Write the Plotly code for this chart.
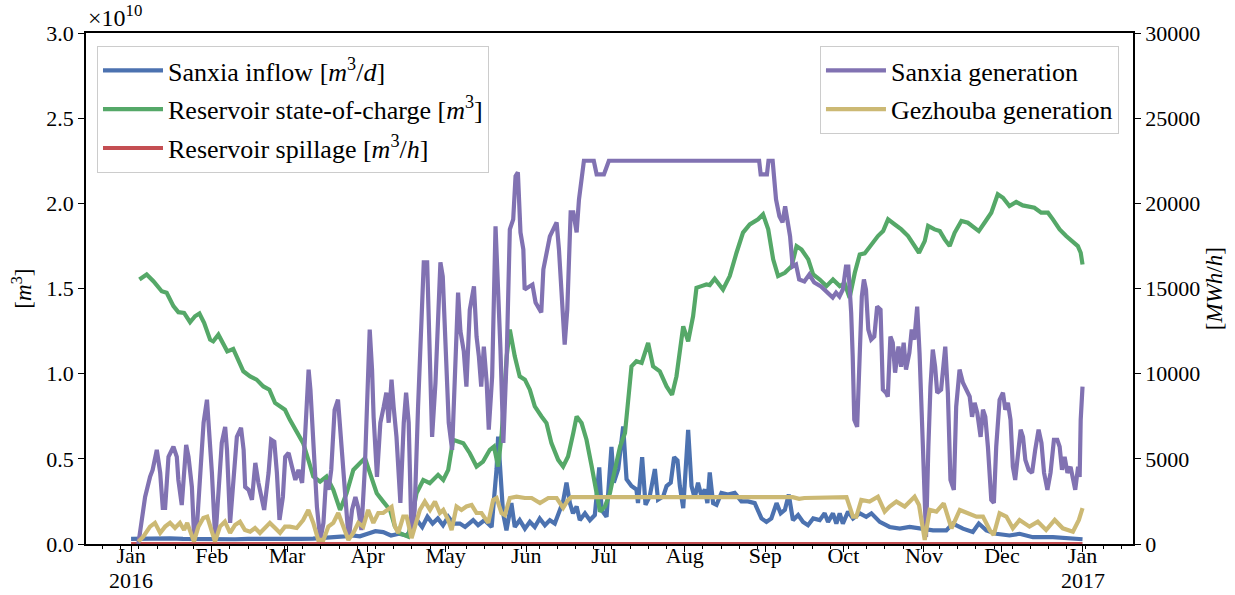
import numpy as np
import pandas as pd
import plotly.graph_objects as go

# ---------------- data (days after 2016-01-01) ----------------
inflow_days = [0, 5, 10, 15, 20, 25, 30, 35, 40, 45, 50, 55, 60, 65, 70, 75, 78, 82, 85, 88, 91, 94, 97, 100,
               103, 106, 108, 110, 112, 114, 116, 118, 120, 122, 124, 126.5, 128.5, 131.6, 133.5, 136, 138.7,
               140.6, 141.2, 142.1, 143.1, 144.4, 146.3, 147.6, 149.5, 151.5, 153.4, 155.3, 157.2, 159.2, 161.1,
               163.0, 164.9, 166.2, 167.5, 168.8, 170.0, 171.4, 172.6, 174.6, 176.5, 178.4, 180.1, 181.0, 182.9,
               184.8, 185.7, 187.4, 189.3, 190.6, 192.5, 194.4, 195.0, 196.6, 197.9, 199.5, 201.5, 202.7, 204.7,
               206.0, 207.6, 208.9, 210.2, 211.1, 212.4, 213.4, 214.3, 215.6, 216.8, 218.1, 219.4, 220.7, 221.7,
               222.6, 223.9, 225.2, 227.1, 229.6, 232.2, 234.8, 237.3, 239.9, 242.5, 244.4, 246.3, 248.3, 249.9,
               251.5, 253.0, 254.6, 256.6, 258.5, 260.4, 262.4, 264.9, 266.8, 268.1, 270.0, 271.3, 272.6, 273.8,
               275.8, 277.7, 280.3, 282.8, 284.8, 288.0, 291.8, 295.7, 299.5, 303.3, 308.5, 313.6, 316.1, 320.0,
               323.8, 326.1, 329.0, 332.8, 337.9, 341.8, 346.9, 354.6, 362.3, 366.0]
inflow_1e10 = [0.03, 0.032, 0.03, 0.033, 0.03, 0.028, 0.032, 0.03, 0.028, 0.03, 0.029, 0.03, 0.028, 0.03, 0.032,
               0.035, 0.04, 0.045, 0.05, 0.045, 0.06, 0.075, 0.07, 0.05, 0.06, 0.05, 0.09, 0.14, 0.10, 0.16, 0.12,
               0.15, 0.11, 0.16, 0.12, 0.12, 0.10, 0.14, 0.11, 0.14, 0.10, 0.44, 0.63, 0.44, 0.18, 0.08, 0.24, 0.10,
               0.14, 0.09, 0.13, 0.10, 0.15, 0.11, 0.14, 0.12, 0.20, 0.25, 0.36, 0.24, 0.18, 0.22, 0.14, 0.18, 0.14,
               0.17, 0.45, 0.20, 0.16, 0.57, 0.36, 0.44, 0.69, 0.38, 0.34, 0.32, 0.24, 0.51, 0.23, 0.28, 0.44, 0.26,
               0.28, 0.34, 0.36, 0.51, 0.49, 0.34, 0.21, 0.45, 0.67, 0.34, 0.27, 0.36, 0.28, 0.32, 0.24, 0.42, 0.24,
               0.23, 0.30, 0.29, 0.30, 0.25, 0.25, 0.24, 0.15, 0.13, 0.15, 0.24, 0.18, 0.20, 0.29, 0.14, 0.17, 0.13,
               0.11, 0.15, 0.14, 0.18, 0.13, 0.18, 0.12, 0.18, 0.12, 0.19, 0.15, 0.18, 0.16, 0.18, 0.13, 0.10, 0.09,
               0.10, 0.09, 0.08, 0.08, 0.12, 0.09, 0.07, 0.12, 0.08, 0.06, 0.05, 0.06, 0.04, 0.04, 0.03, 0.028]

soc_days = [3.2, 6.0, 8.6, 11.8, 13.7, 16.3, 18.2, 20.4, 22.7, 24.6, 26.3, 28.1, 30.4, 31.6, 33.6, 35.5, 37.0,
            39.3, 41.2, 43.2, 45.8, 48.3, 50.9, 53.2, 55.4, 57.3, 59.2, 61.1, 63.7, 66.2, 68.2, 70.1, 72.7, 75.2,
            77.8, 80.4, 82.9, 85.5, 88.1, 90.0, 91.9, 94.5, 97.0, 99.6, 101.5, 103.4, 106.6, 107.9, 109.8, 112.4,
            114.9, 118.1, 120.1, 122.0, 123.9, 125.8, 127.8, 130.3, 132.9, 135.4, 138.0, 139.6, 141.2, 142.6,
            144.5, 145.7, 147.6, 149.5, 151.5, 153.4, 155.3, 157.9, 159.8, 161.7, 164.3, 166.2, 168.1, 170.1,
            171.4, 173.3, 175.2, 177.2, 179.1, 180.4, 182.3, 184.2, 186.1, 188.1, 190.0, 191.3, 192.5, 194.4,
            196.4, 198.9, 200.8, 203.4, 206.0, 208.1, 209.8, 212.4, 214.3, 216.2, 217.5, 219.4, 221.3, 222.6,
            224.5, 227.7, 230.3, 232.9, 235.4, 238.0, 241.2, 243.1, 245.1, 247.0, 248.9, 251.5, 254.1, 256.0,
            257.9, 260.5, 262.4, 264.9, 267.5, 270.0, 272.6, 274.5, 276.4, 278.4, 280.3, 282.2, 284.8, 287.3,
            289.3, 291.2, 293.8, 296.3, 298.9, 300.8, 303.1, 305.3, 306.6, 309.1, 311.1, 313.0, 314.9, 316.8,
            319.4, 321.9, 323.8, 326.1, 328.3, 330.9, 333.4, 335.4, 337.9, 340.5, 343.0, 345.6, 347.5, 350.1,
            352.7, 354.6, 357.2, 359.7, 362.3, 364.2, 365.3, 366.0]
soc_1e10 = [1.553, 1.582, 1.543, 1.484, 1.475, 1.396, 1.361, 1.357, 1.302, 1.337, 1.353, 1.298, 1.200, 1.190,
            1.229, 1.171, 1.131, 1.145, 1.082, 1.014, 0.984, 0.965, 0.925, 0.906, 0.828, 0.808, 0.788, 0.729,
            0.660, 0.592, 0.494, 0.396, 0.366, 0.396, 0.318, 0.200, 0.298, 0.435, 0.475, 0.504, 0.416, 0.298,
            0.249, 0.200, 0.102, 0.063, 0.043, 0.141, 0.298, 0.376, 0.357, 0.406, 0.376, 0.435, 0.612, 0.602,
            0.592, 0.533, 0.455, 0.484, 0.553, 0.572, 0.455, 0.651, 1.102, 1.259, 1.102, 0.984, 0.965, 0.906,
            0.808, 0.749, 0.710, 0.592, 0.494, 0.455, 0.514, 0.651, 0.749, 0.710, 0.612, 0.455, 0.278, 0.190,
            0.220, 0.298, 0.435, 0.572, 0.651, 0.867, 1.043, 1.073, 1.063, 1.180, 1.043, 1.014, 0.925, 0.876,
            0.984, 1.278, 1.190, 1.337, 1.504, 1.514, 1.524, 1.520, 1.557, 1.494, 1.573, 1.710, 1.828, 1.876,
            1.906, 1.935, 1.847, 1.671, 1.573, 1.592, 1.631, 1.749, 1.729, 1.671, 1.582, 1.553, 1.514, 1.553,
            1.514, 1.530, 1.445, 1.592, 1.700, 1.706, 1.759, 1.808, 1.837, 1.906, 1.876, 1.847, 1.808, 1.759,
            1.710, 1.778, 1.867, 1.847, 1.837, 1.788, 1.749, 1.827, 1.896, 1.886, 1.867, 1.837, 1.886, 1.945,
            2.053, 2.033, 1.984, 2.008, 1.988, 1.980, 1.974, 1.945, 1.945, 1.906, 1.847, 1.808, 1.778, 1.749,
            1.710, 1.641]

spill_days = [0, 366]
spill_1e10 = [0.0, 0.0]

sanxia_days = [2.8, 5.4, 7.3, 8.3, 9.9, 11.2, 12.2, 13.1, 14.4, 16.3, 17.6, 18.2, 19.5, 21.2, 22.1, 23.4, 24.3,
               25.5, 26.8, 27.9, 29.2, 30.2, 31.1, 32.4, 33.6, 34.9, 36.2, 36.9, 38.1, 39.2, 40.7, 42.3, 43.3,
               43.9, 45.2, 46.5, 47.8, 49.0, 51.2, 52.9, 53.9, 55.1, 56.1, 57.1, 58.4, 59.3, 60.6, 61.9, 63.2,
               64.4, 65.8, 66.8, 67.7, 68.3, 69.0, 70.2, 71.5, 72.8, 74.0, 75.0, 76.0, 77.0, 78.3, 79.6, 80.5,
               81.4, 82.4, 83.7, 85.0, 86.3, 87.3, 88.6, 89.9, 90.8, 91.8, 92.7, 93.3, 94.6, 95.9, 97.2, 98.2,
               99.1, 100.2, 101.0, 102.1, 103.6, 104.9, 105.8, 106.8, 107.9, 109.1, 110.4, 111.3, 112.6, 113.9,
               114.8, 115.8, 117.1, 118.1, 119.0, 119.9, 121.0, 122.2, 123.5, 124.5, 125.8, 126.7, 128.0, 129.0,
               130.3, 131.9, 132.9, 133.8, 134.7, 135.7, 136.8, 137.6, 138.9, 140.2, 141.1, 142.1, 143.2, 144.5,
               145.7, 147.0, 147.9, 148.8, 149.8, 150.9, 151.4, 153.0, 154.4, 155.6, 156.9, 157.8, 158.6, 159.9,
               161.1, 162.4, 163.7, 164.6, 165.6, 166.8, 167.8, 169.1, 170.1, 171.4, 172.3, 173.2, 174.2, 178.0,
               179.1, 181.9, 183.8, 241.6, 242.2, 244.6, 245.2, 246.8, 248.1, 249.4, 250.6, 251.6, 252.6, 253.5,
               254.5, 255.8, 257.0, 259.0, 260.9, 262.8, 265.4, 268.0, 269.9, 271.2, 272.5, 273.8, 275.0, 275.9,
               277.0, 277.6, 278.2, 279.3, 280.2, 281.1, 281.9, 282.7, 283.6, 284.7, 285.9, 287.0, 288.3, 289.2,
               290.4, 291.1, 292.1, 293.0, 293.9, 295.2, 296.2, 297.2, 298.1, 299.4, 300.3, 301.3, 302.4, 303.3,
               304.6, 305.8, 306.7, 307.5, 308.4, 309.3, 310.1, 311.6, 313.2, 314.2, 315.2, 316.5, 317.4, 318.7,
               320.0, 321.3, 322.6, 323.5, 324.5, 325.5, 326.8, 327.7, 328.6, 329.6, 330.9, 331.9, 332.8, 334.1,
               335.4, 336.3, 337.3, 338.3, 339.2, 340.1, 341.2, 342.2, 343.1, 344.0, 345.3, 346.6, 347.8, 349.1,
               350.2, 351.2, 352.5, 353.7, 355.0, 356.3, 357.2, 358.1, 359.1, 360.2, 361.4, 362.5, 363.2, 364.3,
               364.9, 365.3, 365.7, 366.0]
sanxia_mw = [0, 2760, 3940, 4350, 5530, 4180, 2120, 2120, 5120, 5710, 5120, 3760, 2290, 5820, 5120, 3350, 240,
             1410, 4530, 7120, 8470, 6530, 4180, 240, 3180, 5940, 6880, 5530, 1240, 3180, 6290, 6820, 5530, 3350,
             3180, 2590, 4760, 3590, 2000, 4180, 6120, 6000, 4180, 1410, 2760, 5120, 5350, 4530, 3760, 4350, 3590,
             5940, 9240, 10240, 9060, 5530, 2180, 240, 1240, 3760, 3180, 4350, 7880, 8470, 6530, 4760, 2410, 240,
             2000, 2760, 2180, 820, 4350, 8650, 12590, 10240, 7470, 3940, 7120, 8060, 8880, 7120, 9650, 8060,
             6290, 2410, 7120, 8880, 7120, 410, 2000, 8060, 11590, 16530, 16530, 11410, 6290, 9470, 12590, 16530,
             15700, 11000, 7120, 5530, 9820, 14760, 12500, 11300, 9240, 13760, 15120, 12180, 11000, 9240, 11590,
             9470, 6710, 9820, 18650, 15530, 11410, 5940, 11000, 18470, 19060, 21590, 21820, 18290, 17290, 14940,
             15120, 15230, 14180, 13760, 13590, 16120, 17290, 18060, 18470, 18880, 17290, 14940, 11710, 13760,
             19470, 19470, 18290, 20230, 21410, 22500, 22500, 21700, 21700, 22500, 22500, 21700, 21700, 22500,
             22500, 20230, 19240, 18880, 19820, 18650, 18060, 16290, 16410, 15530, 15410, 15820, 15350, 15120,
             14760, 14470, 14760, 14530, 14940, 16290, 16290, 13590, 11000, 7290, 6880, 11590, 14530, 15530,
             14940, 12590, 12000, 12180, 13940, 13760, 9060, 8880, 8650, 12180, 11820, 10060, 11590, 10410,
             11820, 10240, 11230, 12590, 12000, 13940, 11230, 5710, 410, 5710, 9240, 11410, 10410, 8880, 9060,
             11590, 8880, 3760, 3180, 8060, 10240, 9470, 9060, 8650, 7470, 8290, 7710, 6290, 7880, 7470, 5710,
             2590, 2410, 5710, 8470, 8880, 7880, 8290, 7290, 4530, 3760, 5350, 6710, 6290, 4940, 4350, 4180,
             5530, 6710, 5940, 4180, 3180, 4180, 6120, 6120, 5710, 4350, 5120, 4180, 4530, 3760, 3180, 4530,
             3940, 7290, 8650, 9240]

gezhouba_days = [2.8, 4.7, 7.3, 9.2, 11.2, 13.1, 15.0, 16.9, 18.8, 20.4, 21.6, 22.9, 24.2, 25.9, 27.8, 29.3,
                 30.8, 32.3, 34.2, 36.1, 38.1, 40.0, 41.9, 43.8, 45.8, 47.7, 49.6, 51.5, 53.4, 55.4, 57.3, 59.2,
                 61.1, 63.7, 66.2, 68.2, 70.1, 72.0, 74.0, 75.9, 77.8, 79.7, 81.6, 83.6, 85.5, 87.4, 89.3, 91.2,
                 93.2, 95.1, 97.0, 98.9, 100.2, 101.5, 102.8, 104.7, 106.0, 107.9, 109.8, 111.1, 113.0, 115.0,
                 116.9, 118.8, 120.1, 122.0, 123.3, 125.2, 127.1, 129.0, 131.0, 132.9, 134.8, 136.8, 137.4, 139.3,
                 140.6, 142.5, 143.8, 145.7, 148.3, 151.5, 154.1, 157.3, 160.5, 163.7, 166.2, 168.1, 169.4, 254.5,
                 257.0, 259.0, 275.2, 277.7, 279.0, 280.9, 284.1, 287.3, 289.9, 291.8, 294.4, 297.6, 301.4, 303.1,
                 305.3, 307.2, 309.8, 312.6, 314.3, 315.6, 318.8, 322.0, 325.2, 327.7, 330.3, 331.8, 334.1, 336.7,
                 339.2, 341.8, 345.6, 348.8, 352.0, 355.3, 358.4, 362.3, 364.6, 366.0]
gezhouba_mw = [140, 430, 1020, 1240, 650, 1020, 1240, 940, 1240, 820, 1240, 650, 140, 1020, 1530, 1610, 820, 140,
               1020, 1310, 650, 1120, 1310, 820, 720, 940, 650, 940, 1240, 940, 650, 1020, 1020, 940, 1410, 2000,
               1240, 240, 240, 1020, 1240, 1820, 1020, 240, 650, 1240, 1020, 2000, 1240, 1820, 1820, 2000, 2180,
               1020, 650, 1610, 1610, 350, 1240, 2000, 2490, 2000, 2490, 1820, 2000, 1410, 820, 2200, 2000, 2200,
               2290, 1820, 1820, 1410, 1240, 2590, 2700, 1820, 1700, 2700, 2780, 2700, 2700, 2410, 2700, 2700,
               2120, 2590, 2750, 2750, 2650, 2700, 2750, 1610, 1610, 2590, 2490, 2780, 1900, 2200, 2490, 2200,
               2780, 2290, 240, 2000, 1900, 2390, 1610, 920, 2000, 1800, 1610, 1610, 820, 530, 1800, 1610, 920,
               1410, 1020, 1310, 820, 1410, 920, 720, 1410, 2100]

month_ticks = ["2016-01-01", "2016-02-01", "2016-03-01", "2016-04-01", "2016-05-01", "2016-06-01",
               "2016-07-01", "2016-08-01", "2016-09-01", "2016-10-01", "2016-11-01", "2016-12-01", "2017-01-01"]
month_labels = ["Jan", "Feb", "Mar", "Apr", "May", "Jun", "Jul", "Aug", "Sep", "Oct", "Nov", "Dec", "Jan"]
year_ticks = ["2016-01-01", "2017-01-01"]
year_labels = ["2016", "2017"]
left_ticks = [0.0, 0.5, 1.0, 1.5, 2.0, 2.5, 3.0]
right_ticks = [0, 5000, 10000, 15000, 20000, 25000, 30000]

# ---------------- figure ----------------
T0 = pd.Timestamp("2016-01-01")


def to_dates(days):
    return T0 + pd.to_timedelta(np.asarray(days, dtype=float), unit="D")


FONT = "Liberation Serif"
LW = 4.2
fig = go.Figure()

fig.add_trace(go.Scatter(x=to_dates(inflow_days), y=inflow_1e10, mode="lines",
                         line=dict(color="#4C72B0", width=LW), legendgroup="a",
                         name="Sanxia inflow [<i>m</i><sup>3</sup>/<i>d</i>]"))
fig.add_trace(go.Scatter(x=to_dates(soc_days), y=soc_1e10, mode="lines",
                         line=dict(color="#55A868", width=LW), legendgroup="b",
                         name="Reservoir state-of-charge [<i>m</i><sup>3</sup>]"))
fig.add_trace(go.Scatter(x=to_dates(spill_days), y=spill_1e10, mode="lines",
                         line=dict(color="#C44E52", width=LW), legendgroup="c",
                         name="Reservoir spillage [<i>m</i><sup>3</sup>/<i>h</i>]"))
fig.add_trace(go.Scatter(x=to_dates(sanxia_days), y=sanxia_mw, mode="lines", yaxis="y2",
                         line=dict(color="#8172B2", width=LW), legend="legend2", legendgroup="d",
                         name="Sanxia generation"))
fig.add_trace(go.Scatter(x=to_dates(gezhouba_days), y=gezhouba_mw, mode="lines", yaxis="y2",
                         line=dict(color="#CCB974", width=LW), legend="legend2", legendgroup="e",
                         name="Gezhouba generation"))

axis_common = dict(showgrid=False, zeroline=False, showline=True, linecolor="black", linewidth=1.5,
                   ticks="outside", ticklen=6, tickwidth=1.2, tickcolor="black",
                   tickfont=dict(family=FONT, size=22, color="black"))

legend_common = dict(font=dict(family=FONT, size=26, color="black"), bgcolor="rgba(255,255,255,0.8)",
                     bordercolor="#cccccc", borderwidth=1, tracegroupgap=2, traceorder="grouped",
                     itemwidth=60, yanchor="top", y=0.9746)

annotations = [
    dict(text="×10<sup>10</sup>", xref="paper", yref="paper", x=0.0, y=1.0, xanchor="left",
         yanchor="bottom", showarrow=False, font=dict(family=FONT, size=24, color="black")),
    dict(text="[<i>m</i><sup>3</sup>]", xref="paper", yref="paper", x=-0.061, y=0.5,
         xanchor="center", yanchor="middle", textangle=-90, showarrow=False,
         font=dict(family=FONT, size=23, color="black")),
    dict(text="[<i>MWh</i>/<i>h</i>]", xref="paper", yref="paper", x=1.078, y=0.5,
         xanchor="center", yanchor="middle", textangle=-90, showarrow=False,
         font=dict(family=FONT, size=23, color="black")),
]
for yt, yl in zip(year_ticks, year_labels):
    annotations.append(dict(text=yl, xref="x", yref="paper", x=yt, y=-0.0705, xanchor="center",
                            yanchor="middle", showarrow=False,
                            font=dict(family=FONT, size=22, color="black")))

fig.update_layout(
    width=1235, height=595,
    margin=dict(l=86, r=102, t=33, b=51, autoexpand=False),
    plot_bgcolor="white", paper_bgcolor="white",
    font=dict(family=FONT, size=22, color="black"),
    xaxis=dict(type="date", range=["2015-12-14 16:00", "2017-01-20 10:00"], mirror=True,
               tickvals=month_ticks, ticktext=month_labels, ticklabelstandoff=-15,
               minor=dict(ticks="outside", ticklen=3.5, tickwidth=1, tickcolor="black",
                          tick0="2016-01-04", dtick=7 * 86400000, showgrid=False),
               **axis_common),
    yaxis=dict(range=[0, 3.0], tickvals=left_ticks, tickformat=".1f", **axis_common),
    yaxis2=dict(range=[0, 30000], tickvals=right_ticks, tickformat="d", overlaying="y", side="right",
                **axis_common),
    legend=dict(x=0.0105, xanchor="left", **legend_common),
    legend2=dict(x=0.9866, xanchor="right", **legend_common),
    annotations=annotations,
)

fig.write_html("out.html", config={"displayModeBar": False},
               post_script="document.body.style.margin='0';document.body.style.padding='0';")
